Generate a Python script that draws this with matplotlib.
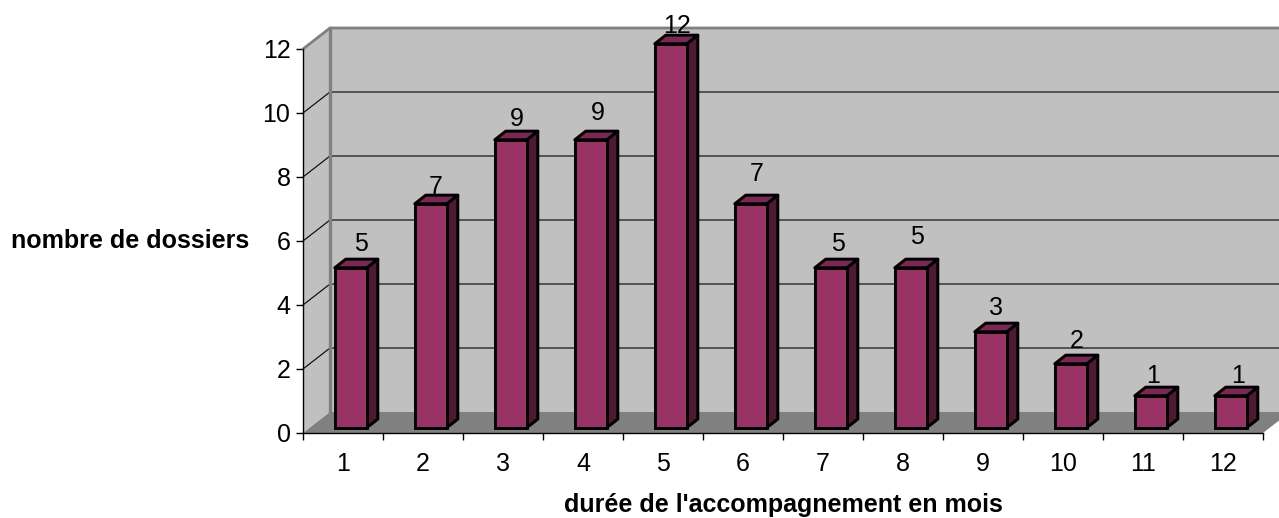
import numpy as np
import matplotlib
matplotlib.use('Agg')
import matplotlib.pyplot as plt
from matplotlib.patches import Polygon

plt.rcParams['font.family'] = ['Liberation Sans', 'DejaVu Sans']

months = ['1', '2', '3', '4', '5', '6', '7', '8', '9', '10', '11', '12']
dossiers = [5, 7, 9, 9, 12, 7, 5, 5, 3, 2, 1, 1]
y_ticks = [0, 2, 4, 6, 8, 10, 12]

W, H = 1279, 518
X0, X1, Y0, Y1 = 303, 1263, 433, 49   # plot box of the front plane, pixels
px_x = (X1 - X0) / len(months)
px_y = (Y0 - Y1) / max(y_ticks)

# fake 3d: shift per unit of depth, in data units
DX = 27 / px_x
DY = 21 / px_y
BAR_D0, BAR_D1 = 0.25, 0.66
BAR_W = 32 / px_x
BAR_GAP = 25 / px_x

# hand placed data labels, pixels from the bar centre / top
label_dx = [10, 5, 6, 7, 6, 6, 7, 6, 5, 6, 2, 7]
label_dy = [15, 8, 12, 18, 9, 21, 15, 22, 15, 14, 11, 11]

PURPLE = '#993366'
PURPLE_TOP = '#7a2952'
PURPLE_SIDE = '#4d1a33'
WALL = '#c0c0c0'
FLOOR = '#808080'
EDGE_LW = 2.1


def poly(ax, pts, color, z, ec='none', lw=0):
    ax.add_patch(Polygon(pts, closed=True, fc=color, ec=ec, lw=lw, zorder=z,
                         clip_on=False, joinstyle='round'))


fig = plt.figure(figsize=(W / 100, H / 100), dpi=100)
ax = fig.add_axes([X0 / W, 1 - Y0 / H, (X1 - X0) / W, (Y0 - Y1) / H])

n = len(months)
top = max(y_ticks)
ax.set_xlim(0, n)
ax.set_ylim(0, top)
ax.patch.set_visible(False)

# walls and floor
poly(ax, [(DX, DY), (n + DX, DY), (n + DX, top + DY), (DX, top + DY)], WALL, 1)
poly(ax, [(0, 0), (DX, DY), (DX, top + DY), (0, top)], WALL, 1)
poly(ax, [(0, 0), (n, 0), (n + DX, DY), (DX, DY)], FLOOR, 2)

# gridlines
for t in y_ticks[1:-1]:
    ax.plot([0, DX, n + DX], [t, t + DY, t + DY], color='black', lw=0.8, zorder=3, clip_on=False)
ax.plot([0, DX, n + DX], [top, top + DY, top + DY], color=FLOOR, lw=2.0, zorder=3, clip_on=False)
ax.plot([DX, DX], [DY, top + DY], color=FLOOR, lw=2.4, zorder=3, clip_on=False)

# bars
xs = np.arange(n) + BAR_GAP + BAR_D0 * DX
ax.bar(xs, dossiers, width=BAR_W, bottom=BAR_D0 * DY, align='edge', color=PURPLE,
       edgecolor='black', linewidth=EDGE_LW, zorder=6, clip_on=False)

dep = (BAR_D1 - BAR_D0)
for i, v in enumerate(dossiers):
    xl = xs[i]
    xr = xl + BAR_W
    yb = BAR_D0 * DY
    yt = yb + v
    poly(ax, [(xr, yb), (xr + dep * DX, yb + dep * DY), (xr + dep * DX, yt + dep * DY), (xr, yt)],
         PURPLE_SIDE, 5, ec='black', lw=EDGE_LW)
    poly(ax, [(xl, yt), (xr, yt), (xr + dep * DX, yt + dep * DY), (xl + dep * DX, yt + dep * DY)],
         PURPLE_TOP, 5, ec='black', lw=EDGE_LW)
    ax.annotate(str(v), (xl + BAR_W / 2, yt + dep * DY),
                xytext=(label_dx[i] * 0.72, label_dy[i] * 0.72), textcoords='offset points',
                ha='center', va='center', fontsize=18, zorder=8, annotation_clip=False)

# axes
for s in ['top', 'right']:
    ax.spines[s].set_visible(False)
for s in ['left', 'bottom']:
    ax.spines[s].set_linewidth(1.0)
    ax.spines[s].set_zorder(7)

ax.set_yticks(y_ticks)
ax.set_yticklabels([str(t) for t in y_ticks], fontsize=18)
ax.tick_params(axis='y', length=5, width=1, pad=4)

ax.set_xticks(np.arange(n + 1))
ax.set_xticklabels([])
ax.set_xticks(np.arange(n) + 0.5, minor=True)
ax.set_xticklabels(months, minor=True, fontsize=18)
ax.tick_params(axis='x', which='major', length=5, width=1)
ax.tick_params(axis='x', which='minor', length=0, pad=13.5)

fig.text(130 / W, 1 - 241 / H, 'nombre de dossiers', fontsize=18, fontweight='bold', ha='center', va='center')
fig.text(783 / W, 1 - 505 / H, "durée de l'accompagnement en mois", fontsize=18, fontweight='bold',
         ha='center', va='center')

fig.savefig('out.png', dpi=100)
